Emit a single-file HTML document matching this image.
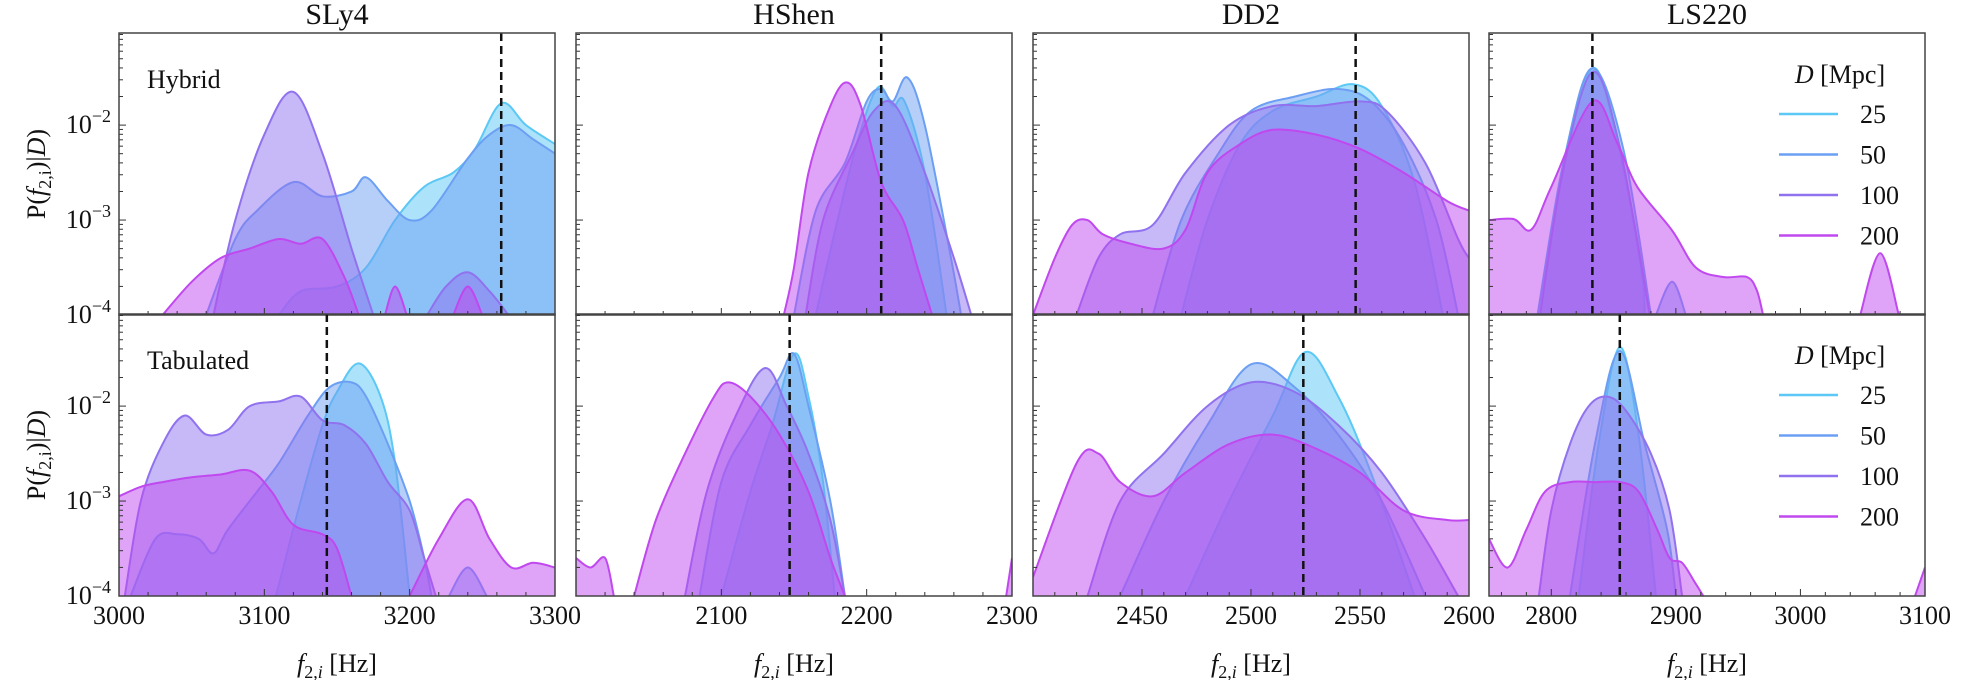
<!DOCTYPE html>
<html><head><meta charset="utf-8">
<style>
html,body{margin:0;padding:0;background:#fff;}
svg{display:block;font-family:"Liberation Serif",serif;}
</style></head>
<body>
<svg id="chart" width="1986" height="680" viewBox="0 0 1986 680" xmlns="http://www.w3.org/2000/svg"></svg>
<script>
const eosNames = ["SLy4","HShen","DD2","LS220"];
const rowNames = ["Hybrid","Tabulated"];
const distances = ["25","50","100","200"];
const colors = ["#5cc8f5","#6c9ff3","#9072ef","#c048ef"];
const xRanges = [[3000,3300],[2000,2300],[2400,2600],[2750,3100]];
const xTickLabels = [[3000,3100,3200,3300],[2100,2200,2300],[2450,2500,2550,2600],[2800,2900,3000,3100]];
const xMinorStep = [20,20,10,20];
const yTickExps = [-4,-3,-2];
const dashedTop = [3263,2210,2548,2833];
const dashedBottom = [3143,2147,2524,2855];

const sly4Hybrid25 = [[[3110,-4],[3125,-3.75],[3150,-3.7],[3170,-3.5],[3190,-3.0],[3210,-2.65],[3230,-2.5],[3245,-2.25],[3263,-1.77],[3280,-2.0],[3300,-2.2]]];
const sly4Hybrid50 = [[[3060,-4],[3080,-3.2],[3095,-2.9],[3120,-2.6],[3140,-2.75],[3160,-2.7],[3170,-2.55],[3185,-2.8],[3200,-3.0],[3215,-2.9],[3240,-2.35],[3255,-2.1],[3270,-2.0],[3285,-2.15],[3300,-2.3]]];
const sly4Hybrid100 = [[[3065,-4],[3080,-3.0],[3100,-2.1],[3120,-1.65],[3140,-2.3],[3160,-3.3],[3175,-4]],[[3212,-4],[3225,-3.7],[3240,-3.55],[3255,-3.75],[3268,-4]]];
const sly4Hybrid200 = [[[3030,-4],[3050,-3.65],[3070,-3.4],[3090,-3.3],[3110,-3.2],[3125,-3.25],[3140,-3.2],[3155,-3.6],[3165,-4]],[[3183,-4],[3190,-3.7],[3198,-4]],[[3230,-4],[3240,-3.7],[3250,-4]]];

const hshenHybrid25 = [[[2165,-4],[2180,-3.0],[2195,-2.1],[2208,-1.6],[2218,-1.8],[2226,-1.75],[2240,-2.5],[2255,-4]]];
const hshenHybrid50 = [[[2150,-4],[2165,-2.9],[2185,-2.4],[2200,-1.75],[2210,-1.62],[2218,-1.75],[2228,-1.5],[2240,-2.0],[2258,-3.4],[2265,-4]]];
const hshenHybrid100 = [[[2158,-4],[2170,-3.0],[2190,-2.3],[2205,-1.85],[2220,-1.8],[2240,-2.5],[2260,-3.4],[2272,-4]]];
const hshenHybrid200 = [[[2143,-4],[2150,-3.5],[2160,-2.5],[2175,-1.8],[2186,-1.55],[2196,-1.8],[2210,-2.6],[2225,-3.0],[2235,-3.5],[2245,-4]]];

const dd2Hybrid25 = [[[2468,-4],[2480,-3.0],[2495,-2.2],[2510,-1.85],[2530,-1.7],[2547,-1.57],[2560,-1.8],[2575,-2.6],[2588,-4]]];
const dd2Hybrid50 = [[[2455,-4],[2468,-3.0],[2485,-2.3],[2500,-1.85],[2520,-1.7],[2540,-1.62],[2555,-1.75],[2570,-2.2],[2585,-3.0],[2595,-4]]];
const dd2Hybrid100 = [[[2420,-4],[2430,-3.4],[2440,-3.15],[2455,-3.05],[2470,-2.5],[2490,-2.0],[2510,-1.8],[2530,-1.8],[2550,-1.75],[2562,-1.85],[2580,-2.4],[2595,-3.2],[2600,-3.4]]];
const dd2Hybrid200 = [[[2400,-4],[2410,-3.4],[2418,-3.05],[2425,-3.0],[2432,-3.15],[2445,-3.25],[2460,-3.3],[2470,-3.1],[2480,-2.5],[2495,-2.2],[2510,-2.05],[2530,-2.1],[2550,-2.25],[2570,-2.5],[2590,-2.8],[2600,-2.9]]];

const ls220Hybrid25 = [[[2789,-4],[2809,-2.44],[2833,-1.4],[2853,-2.16],[2872,-3.5],[2875,-4]]];
const ls220Hybrid50 = [[[2789,-4],[2811,-2.33],[2833,-1.4],[2858,-2.26],[2880,-4]],[[2884,-4],[2897,-3.65],[2908,-4]]];
const ls220Hybrid100 = [[[2791,-4],[2809,-2.51],[2833,-1.44],[2855,-2.23],[2879,-4]]];
const ls220Hybrid200 = [[[2750,-3.0],[2770,-2.99],[2784,-3.1],[2800,-2.65],[2833,-1.75],[2853,-2.19],[2869,-2.65],[2897,-3.11],[2916,-3.5],[2938,-3.6],[2957,-3.6],[2965,-3.74],[2970,-4]],[[3048,-4],[3064,-3.35],[3079,-4]]];

const sly4Tab25 = [[[3108,-4],[3125,-3.0],[3140,-2.2],[3150,-1.85],[3165,-1.55],[3180,-1.9],[3190,-2.6],[3200,-4]]];
const sly4Tab50 = [[[3008,-4],[3025,-3.4],[3040,-3.35],[3055,-3.4],[3065,-3.55],[3075,-3.3],[3095,-2.9],[3110,-2.6],[3130,-2.1],[3145,-1.8],[3160,-1.75],[3170,-1.9],[3185,-2.4],[3200,-3.0],[3210,-3.6],[3215,-4]],[[3227,-4],[3240,-3.7],[3253,-4]]];
const sly4Tab100 = [[[3004,-4],[3015,-3.0],[3030,-2.4],[3045,-2.1],[3060,-2.3],[3075,-2.25],[3090,-2.0],[3110,-1.95],[3125,-1.9],[3140,-2.15],[3155,-2.2],[3170,-2.4],[3185,-2.8],[3200,-3.1],[3210,-3.6],[3218,-4]]];
const sly4Tab200 = [[[3000,-2.95],[3015,-2.85],[3030,-2.8],[3050,-2.75],[3070,-2.72],[3090,-2.68],[3105,-2.9],[3120,-3.25],[3140,-3.35],[3150,-3.5],[3160,-4]],[[3200,-4],[3220,-3.4],[3240,-2.98],[3255,-3.4],[3270,-3.7],[3285,-3.65],[3300,-3.7]]];

const hshenTab25 = [[[2100,-4],[2120,-2.9],[2135,-2.2],[2150,-1.45],[2160,-1.9],[2170,-2.8],[2178,-4]]];
const hshenTab50 = [[[2085,-4],[2100,-2.8],[2120,-2.2],[2140,-1.7],[2150,-1.45],[2160,-2.0],[2175,-3.0],[2185,-4]]];
const hshenTab100 = [[[2075,-4],[2090,-2.9],[2110,-2.1],[2130,-1.6],[2145,-2.0],[2160,-2.5],[2175,-3.2],[2185,-4]]];
const hshenTab200 = [[[2000,-3.6],[2010,-3.7],[2020,-3.6],[2026,-4]],[[2040,-4],[2055,-3.2],[2075,-2.5],[2095,-1.9],[2105,-1.75],[2120,-1.9],[2140,-2.3],[2160,-2.9],[2175,-3.6],[2185,-4]],[[2296,-4],[2300,-3.6]]];

const dd2Tab25 = [[[2470,-4],[2490,-3.0],[2510,-2.1],[2525,-1.43],[2540,-1.9],[2555,-2.7],[2575,-4]]];
const dd2Tab50 = [[[2440,-4],[2460,-3.0],[2480,-2.2],[2500,-1.56],[2520,-1.8],[2540,-2.3],[2560,-3.0],[2580,-4]]];
const dd2Tab100 = [[[2425,-4],[2440,-3.0],[2460,-2.5],[2480,-2.0],[2500,-1.75],[2520,-1.85],[2540,-2.2],[2560,-2.7],[2580,-3.4],[2595,-4]]];
const dd2Tab200 = [[[2400,-3.8],[2420,-2.6],[2430,-2.5],[2440,-2.8],[2455,-2.95],[2470,-2.7],[2490,-2.4],[2510,-2.3],[2530,-2.45],[2550,-2.7],[2570,-3.1],[2590,-3.2],[2600,-3.2]]];

const ls220Tab25 = [[[2822,-4],[2838,-2.4],[2855,-1.38],[2870,-2.3],[2884,-4]]];
const ls220Tab50 = [[[2815,-4],[2835,-2.4],[2855,-1.42],[2875,-2.4],[2893,-3.3],[2900,-4]]];
const ls220Tab100 = [[[2790,-4],[2800,-3.1],[2815,-2.4],[2830,-2.0],[2845,-1.9],[2860,-2.05],[2880,-2.5],[2895,-3.1],[2905,-4]]];
const ls220Tab200 = [[[2750,-3.4],[2765,-3.7],[2780,-3.3],[2795,-2.9],[2815,-2.8],[2835,-2.8],[2855,-2.8],[2870,-2.9],[2885,-3.3],[2895,-3.6],[2905,-3.65],[2915,-3.85],[2922,-4]],[[3092,-4],[3100,-3.7]]];

const panelSeries = [
  [[sly4Hybrid25,sly4Hybrid50,sly4Hybrid100,sly4Hybrid200],[hshenHybrid25,hshenHybrid50,hshenHybrid100,hshenHybrid200],[dd2Hybrid25,dd2Hybrid50,dd2Hybrid100,dd2Hybrid200],[ls220Hybrid25,ls220Hybrid50,ls220Hybrid100,ls220Hybrid200]],
  [[sly4Tab25,sly4Tab50,sly4Tab100,sly4Tab200],[hshenTab25,hshenTab50,hshenTab100,hshenTab200],[dd2Tab25,dd2Tab50,dd2Tab100,dd2Tab200],[ls220Tab25,ls220Tab50,ls220Tab100,ls220Tab200]]
];

const NS="http://www.w3.org/2000/svg";
const svg=document.getElementById('chart');
const colLeft=[119,576,1033,1489], colW=436;
const rowTop=[33,314], rowH=282;
const yMin=-4, yMax=-1.03;
function mk(tag,attrs,parent){const e=document.createElementNS(NS,tag);for(const k in attrs)e.setAttribute(k,attrs[k]);(parent||svg).appendChild(e);return e;}
function xScale(c,v){const r=xRanges[c];return colLeft[c]+(v-r[0])/(r[1]-r[0])*colW;}
function yScale(r,lv){return rowTop[r]+rowH-(lv-yMin)/(yMax-yMin)*rowH;}
function smooth(pts){let d="M"+pts[0][0]+","+pts[0][1];for(let i=0;i<pts.length-1;i++){const p0=pts[Math.max(0,i-1)],p1=pts[i],p2=pts[i+1],p3=pts[Math.min(pts.length-1,i+2)];const c1=[p1[0]+(p2[0]-p0[0])/6,p1[1]+(p2[1]-p0[1])/6],c2=[p2[0]-(p3[0]-p1[0])/6,p2[1]-(p3[1]-p1[1])/6];d+=" C"+c1[0].toFixed(1)+","+c1[1].toFixed(1)+" "+c2[0].toFixed(1)+","+c2[1].toFixed(1)+" "+p2[0].toFixed(1)+","+p2[1].toFixed(1);}return d;}
const defs=mk('defs',{});

for(let r=0;r<2;r++){for(let c=0;c<4;c++){
  const L=colLeft[c],T=rowTop[r],B=T+rowH,R=L+colW;
  const g=mk('g',{});
  
  
  const cp=mk('clipPath',{id:'cp'+r+c},defs);mk('rect',{x:L,y:T,width:colW,height:rowH},cp);
  const sg=mk('g',{'clip-path':'url(#cp'+r+c+')'},g);
  panelSeries[r][c].forEach((segs,si)=>{
    segs.forEach(seg=>{
      const pts=seg.map(p=>[xScale(c,p[0]),yScale(r,p[1])]);
      const d=smooth(pts);
      const f=mk('path',{d:d+" L"+pts[pts.length-1][0].toFixed(1)+","+(B+5)+" L"+pts[0][0].toFixed(1)+","+(B+5)+" Z",fill:colors[si],'fill-opacity':0.5,stroke:'none'},sg);
      
      
      const l=mk('path',{d:d,fill:'none',stroke:colors[si],'stroke-width':2},sg);
      
      
    });
  });
  const dv=(r===0?dashedTop:dashedBottom)[c];
  const dl=mk('line',{x1:xScale(c,dv),x2:xScale(c,dv),y1:T,y2:B,stroke:'#111','stroke-width':2.5,'stroke-dasharray':'8,5'},g);
  
  
  for(let e=-4;e<=-2;e++){for(let m=1;m<10;m++){const lv=e+Math.log10(m);if(lv>yMax)continue;const y=yScale(r,lv);mk('line',{x1:L,x2:L+(m===1?7:4),y1:y,y2:y,stroke:'#333','stroke-width':1},g);}
  }
  if(c===0){yTickExps.forEach(e=>{const t=mk('text',{x:L-8,y:yScale(r,e)+8,'text-anchor':'end','font-size':26,fill:'#111'},g);t.textContent='10';const ts=mk('tspan',{dy:-11,'font-size':18},t);ts.textContent='−'+(-e);});}
  const xr=xRanges[c];
  for(let v=Math.ceil(xr[0]/xMinorStep[c])*xMinorStep[c];v<=xr[1];v+=xMinorStep[c]){const x=xScale(c,v);const major=xTickLabels[c].indexOf(v)>=0;mk('line',{x1:x,x2:x,y1:B,y2:B-(major?7:4),stroke:'#333','stroke-width':1},g);}
  if(r===1){xTickLabels[c].forEach(v=>{const t=mk('text',{x:xScale(c,v),y:624,'text-anchor':'middle','font-size':26,fill:'#111'},g);t.textContent=v;});
    const xl=mk('text',{x:L+colW/2,y:672,'text-anchor':'middle','font-size':26,fill:'#111'},g);
    const a=mk('tspan',{'font-style':'italic'},xl);a.textContent='f';const b=mk('tspan',{'font-size':18,dy:6},xl);b.textContent='2,';const b2=mk('tspan',{'font-size':18,'font-style':'italic'},xl);b2.textContent='i';const cc=mk('tspan',{dy:-6},xl);cc.textContent=' [Hz]';}
  const fr=mk('rect',{x:L,y:T,width:colW,height:rowH,fill:'none',stroke:'#444','stroke-width':1.5},g);
  
}}
eosNames.forEach((n,c)=>{const t=mk('text',{x:colLeft[c]+colW/2,y:24,'text-anchor':'middle','font-size':30,'font-family':'Liberation Serif, serif',fill:'#111'});t.textContent=n;});
rowNames.forEach((n,r)=>{const t=mk('text',{x:147,y:rowTop[r]+55,'font-size':26,fill:'#111'});t.textContent=n;
  const yl=mk('text',{x:0,y:0,transform:'translate(45,'+(rowTop[r]+rowH/2)+') rotate(-90)','text-anchor':'middle','font-size':26,fill:'#111'});
  const p1=mk('tspan',{},yl);p1.textContent='P(';const p2=mk('tspan',{'font-style':'italic'},yl);p2.textContent='f';const p3=mk('tspan',{'font-size':18,dy:6},yl);p3.textContent='2,i';const p4=mk('tspan',{dy:-6},yl);p4.textContent=')|';const p5=mk('tspan',{'font-style':'italic'},yl);p5.textContent='D';const p6=mk('tspan',{},yl);p6.textContent=')';
  const lg=mk('g',{});
  const lt=mk('text',{x:1840,y:rowTop[r]+50,'text-anchor':'middle','font-size':26,fill:'#111'},lg);
  const d1=mk('tspan',{'font-style':'italic'},lt);d1.textContent='D';const d2=mk('tspan',{},lt);d2.textContent=' [Mpc]';
  distances.forEach((d,i)=>{const y=rowTop[r]+81+i*40.5;const ln=mk('line',{x1:1779,x2:1838,y1:y,y2:y,stroke:colors[i],'stroke-width':2.5},lg);
    const tx=mk('text',{x:1860,y:y+9,'font-size':26,fill:'#111'},lg);tx.textContent=d;});
});
</script>
</body></html>
